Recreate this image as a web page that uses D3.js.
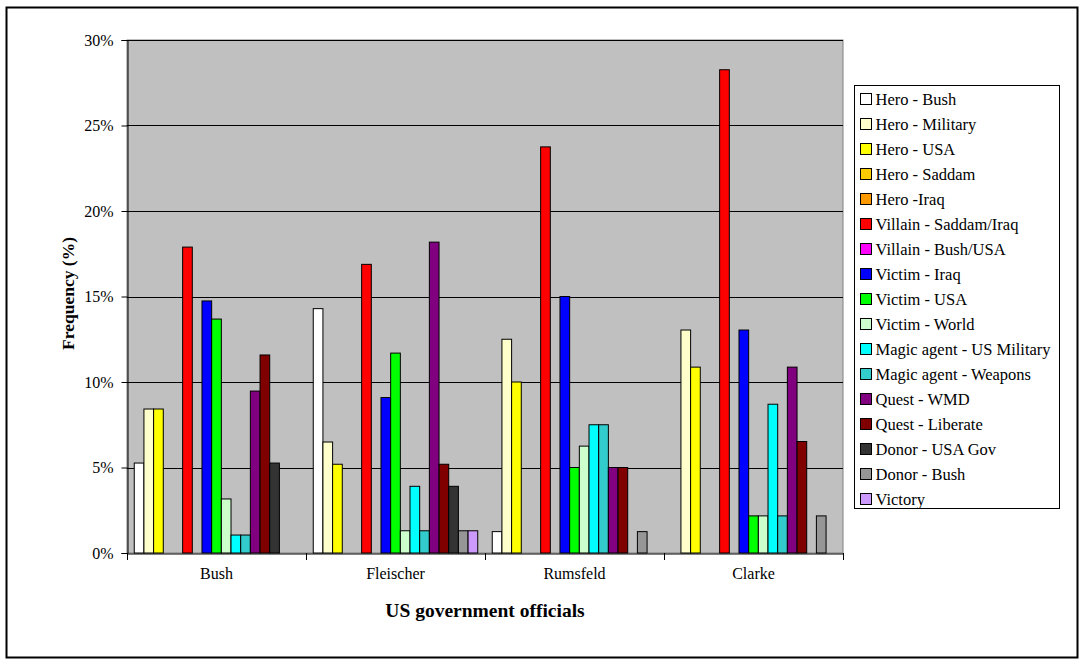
<!DOCTYPE html>
<html>
<head>
<meta charset="utf-8">
<script src="https://cdn.jsdelivr.net/npm/d3@7"></script>
<style>
html,body{margin:0;padding:0;background:#fff;}
</style>
</head>
<body>
<svg id="chart" width="1084" height="664" font-family="Liberation Serif, DejaVu Serif, serif"></svg>
<script>
const categories = ["Bush", "Fleischer", "Rumsfeld", "Clarke"];
const seriesNames = ["Hero - Bush", "Hero - Military", "Hero - USA", "Hero - Saddam", "Hero -Iraq",
  "Villain - Saddam/Iraq", "Villain - Bush/USA", "Victim - Iraq", "Victim - USA", "Victim - World",
  "Magic agent - US Military", "Magic agent - Weapons", "Quest - WMD", "Quest - Liberate",
  "Donor - USA Gov", "Donor - Bush", "Victory"];
const seriesColors = ["#FFFFFF", "#FFFFCC", "#FFFF00", "#FFCC00", "#FF9900",
  "#FF0000", "#FF00FF", "#0000FF", "#00FF00", "#CCFFCC",
  "#00FFFF", "#33CCCC", "#800080", "#800000",
  "#333333", "#969696", "#CC99FF"];
// values in percent, one array per category, in series order
const bushValues      = [5.26, 8.42, 8.42, 0, 0, 17.89, 0, 14.74, 13.68, 3.16, 1.05, 1.05, 9.47, 11.58, 5.26, 0, 0];
const fleischerValues = [14.29, 6.49, 5.19, 0, 0, 16.88, 0, 9.09, 11.69, 1.30, 3.90, 1.30, 18.18, 5.19, 3.90, 1.30, 1.30];
const rumsfeldValues  = [1.25, 12.5, 10.0, 0, 0, 23.75, 0, 15.0, 5.0, 6.25, 7.5, 7.5, 5.0, 5.0, 0, 1.25, 0];
const clarkeValues    = [0, 13.04, 10.87, 0, 0, 28.26, 0, 13.04, 2.17, 2.17, 8.70, 2.17, 10.87, 6.52, 0, 2.17, 0];
const categoryValues = [bushValues, fleischerValues, rumsfeldValues, clarkeValues];
const yTicks = [0, 5, 10, 15, 20, 25, 30];

const FONT = "Liberation Serif, DejaVu Serif, serif";
const svg = d3.select("#chart");

// outer border
svg.append("rect").attr("x", 6.5).attr("y", 7.5).attr("width", 1071).attr("height", 650)
  .attr("fill", "#fff").attr("stroke", "#000").attr("stroke-width", 2);

const plot = {left: 127, right: 843, top: 40, bottom: 553};

const x = d3.scaleBand().domain(categories).range([plot.left, plot.right]).paddingInner(0).paddingOuter(0);
const xs = d3.scaleBand().domain(seriesNames).range([0, x.bandwidth()]).paddingInner(0).paddingOuter(0.75);
const y = d3.scaleLinear().domain([0, 30]).range([plot.bottom, plot.top]);

// plot background
svg.append("rect").attr("x", plot.left).attr("y", plot.top)
  .attr("width", plot.right - plot.left).attr("height", plot.bottom - plot.top)
  .attr("fill", "#C0C0C0").attr("stroke", "#808080").attr("stroke-width", 1);

// gridlines
svg.append("g").selectAll("line").data(yTicks.filter(d => d > 0)).join("line")
  .attr("x1", plot.left).attr("x2", plot.right)
  .attr("y1", d => Math.round(y(d)) + 0.5).attr("y2", d => Math.round(y(d)) + 0.5)
  .attr("stroke", "#000").attr("stroke-width", 1);

// bars
const rows = [];
categories.forEach((c, ci) => {
  categoryValues[ci].forEach((v, si) => {
    if (v > 0) rows.push({cat: c, series: seriesNames[si], color: seriesColors[si], value: v});
  });
});
svg.append("g").selectAll("rect").data(rows).join("rect")
  .attr("x", d => x(d.cat) + xs(d.series))
  .attr("y", d => y(d.value))
  .attr("width", xs.bandwidth())
  .attr("height", d => y(0) - y(d.value))
  .attr("fill", d => d.color)
  .attr("stroke", "#000").attr("stroke-width", 1);

// y axis
const yAxis = d3.axisLeft(y).tickValues(yTicks).tickFormat(d => d + "%").tickSize(6).tickPadding(8);
const gy = svg.append("g").attr("transform", `translate(${plot.left + 0.5},0)`).call(yAxis)
  .attr("font-family", FONT).attr("font-size", 16);
gy.select(".domain").attr("stroke", "#000");
gy.selectAll(".tick line").attr("stroke", "#000");
gy.selectAll("text").attr("fill", "#000");

// x axis
const xAxis = d3.axisBottom(x).tickSize(0).tickPadding(20);
const gx = svg.append("g").attr("transform", `translate(0,${plot.bottom + 0.5})`).call(xAxis)
  .attr("font-family", FONT).attr("font-size", 16);
gx.select(".domain").attr("stroke", "#000");
gx.selectAll("text").attr("fill", "#000").attr("dy", "0.32em");
// category boundary ticks
const bounds = categories.map(c => x(c)).concat([plot.right]);
svg.append("g").selectAll("line").data(bounds).join("line")
  .attr("x1", d => Math.round(d) + 0.5).attr("x2", d => Math.round(d) + 0.5)
  .attr("y1", plot.bottom).attr("y2", plot.bottom + 7)
  .attr("stroke", "#000");

// axis titles
svg.append("text").attr("x", (plot.left + plot.right) / 2).attr("y", 617)
  .attr("text-anchor", "middle").attr("font-family", FONT).attr("font-size", 19.5).attr("font-weight", "bold")
  .text("US government officials");
svg.append("text").attr("transform", `translate(74,${(plot.top + plot.bottom) / 2 - 3}) rotate(-90)`)
  .attr("text-anchor", "middle").attr("font-family", FONT).attr("font-size", 17.5).attr("font-weight", "bold")
  .text("Frequency (%)");

// legend
const legend = svg.append("g");
legend.append("rect").attr("x", 854.5).attr("y", 85.5).attr("width", 205).attr("height", 423)
  .attr("fill", "#fff").attr("stroke", "#000").attr("stroke-width", 1);
const lg = legend.selectAll("g.item").data(seriesNames).join("g").attr("class", "item")
  .attr("transform", (d, i) => `translate(0,${99 + i * 25})`);
lg.append("rect").attr("x", 860.5).attr("y", -5.5).attr("width", 11).attr("height", 11)
  .attr("fill", (d, i) => seriesColors[i]).attr("stroke", "#000").attr("stroke-width", 1);
lg.append("text").attr("x", 875.5).attr("y", 5.5).attr("font-family", FONT).attr("font-size", 16.5).text(d => d);
</script>
</body>
</html>
